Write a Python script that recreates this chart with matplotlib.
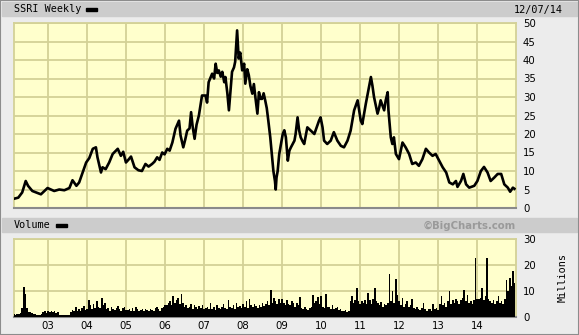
import numpy as np
import matplotlib.pyplot as plt
from matplotlib.patches import Rectangle

# weekly SSRI chart (decimal years)
price_dates = [
    2002.13, 2002.24, 2002.34, 2002.43, 2002.49, 2002.60, 2002.70, 2002.82, 2002.90, 2002.99,
    2003.16, 2003.29, 2003.42, 2003.55, 2003.63, 2003.73, 2003.80, 2003.89, 2003.98,
    2004.06, 2004.15, 2004.23, 2004.27, 2004.36, 2004.40, 2004.48, 2004.57, 2004.66, 2004.79,
    2004.87, 2004.93, 2005.00, 2005.06, 2005.13, 2005.22, 2005.32, 2005.41, 2005.50, 2005.58,
    2005.67, 2005.73, 2005.80, 2005.86, 2005.93, 2005.99, 2006.06, 2006.12, 2006.19, 2006.27,
    2006.36, 2006.40, 2006.47, 2006.52, 2006.57, 2006.63, 2006.67, 2006.71, 2006.76, 2006.81,
    2006.87, 2006.95, 2007.04, 2007.08, 2007.12, 2007.21, 2007.26, 2007.30, 2007.34, 2007.38,
    2007.43, 2007.47, 2007.52, 2007.55, 2007.60, 2007.64, 2007.68, 2007.72, 2007.77, 2007.80,
    2007.85, 2007.89, 2007.93, 2007.98, 2008.03, 2008.06, 2008.11, 2008.15, 2008.19, 2008.24,
    2008.28, 2008.32, 2008.37, 2008.41, 2008.45, 2008.49, 2008.53, 2008.57, 2008.61, 2008.65,
    2008.70, 2008.74, 2008.78, 2008.82, 2008.84, 2008.86, 2008.89, 2008.93, 2009.02, 2009.06,
    2009.10, 2009.15, 2009.19, 2009.23, 2009.32, 2009.35, 2009.40, 2009.44, 2009.48, 2009.53,
    2009.57, 2009.65, 2009.74, 2009.83, 2009.95, 2009.99, 2010.04, 2010.08, 2010.16, 2010.25,
    2010.33, 2010.42, 2010.51, 2010.59, 2010.68, 2010.76, 2010.85, 2010.94, 2011.02, 2011.06,
    2011.15, 2011.23, 2011.28, 2011.32, 2011.36, 2011.45, 2011.49, 2011.53, 2011.62, 2011.66,
    2011.71, 2011.73, 2011.79, 2011.83, 2011.87, 2011.92, 2012.00, 2012.09, 2012.17, 2012.26,
    2012.34, 2012.43, 2012.51, 2012.60, 2012.69, 2012.77, 2012.86, 2012.94, 2013.03, 2013.12,
    2013.21, 2013.29, 2013.38, 2013.46, 2013.50, 2013.59, 2013.65, 2013.72, 2013.80, 2013.93,
    2014.01, 2014.10, 2014.18, 2014.27, 2014.35, 2014.44, 2014.53, 2014.62, 2014.70, 2014.79,
    2014.85, 2014.92, 2014.96,
]
price_close = [
    2.5, 2.8, 4.2, 7.3, 6.0, 4.6, 4.2, 3.7, 4.5, 5.4,
    4.6, 5.0, 4.8, 5.4, 7.5, 6.0, 6.9, 9.6, 12.3,
    13.5, 16.0, 16.4, 13.7, 9.6, 11.0, 10.5, 12.3, 14.6, 16.0,
    14.1, 15.2, 12.3, 13.0, 13.9, 11.0, 10.2, 10.0, 11.9, 11.2,
    11.9, 12.5, 13.7, 13.0, 15.0, 14.5, 16.0, 15.5, 17.7, 21.4,
    23.6, 19.6, 16.4, 18.5, 20.9, 21.5, 25.9, 22.0, 18.7, 22.5,
    25.0, 30.4, 30.4, 28.5, 34.0, 36.3, 35.0, 39.0, 36.5, 37.2,
    35.5, 36.8, 34.0, 35.4, 31.0, 26.4, 31.5, 36.8, 38.0, 39.5,
    48.0, 40.4, 42.0, 37.2, 39.0, 33.6, 37.5, 35.9, 33.0, 30.9,
    33.5, 29.8, 25.5, 31.3, 29.5, 29.5, 31.0, 29.1, 27.0, 23.6,
    19.1, 14.6, 10.0, 7.3, 5.0, 8.2, 10.0, 14.6, 20.0, 21.0,
    19.1, 12.8, 15.5, 16.4, 18.2, 20.0, 24.5, 21.0, 19.1, 18.0,
    17.3, 21.8, 20.9, 20.0, 23.6, 24.5, 21.8, 18.2, 17.3, 18.2,
    20.5, 18.2, 16.8, 16.4, 18.2, 20.9, 26.4, 29.1, 23.6, 22.7,
    28.2, 32.7, 35.4, 33.0, 30.0, 25.5, 27.0, 29.1, 26.4, 29.1,
    31.3, 26.4, 19.1, 17.3, 19.1, 14.6, 13.2, 17.7, 16.4, 14.6,
    11.9, 12.3, 11.4, 13.2, 16.0, 15.0, 14.1, 14.6, 12.8, 11.0,
    9.6, 6.9, 6.4, 7.3, 5.7, 7.3, 9.2, 6.4, 5.5, 6.0,
    7.3, 10.0, 11.1, 9.6, 7.3, 8.2, 9.2, 9.2, 6.4, 5.5,
    4.4, 5.5, 5.2,
]

# volume in millions, two readings per month starting Feb 2002
vol_start = 2002.13
volume = [
    # 2002
    1.0, 0.8, 1.2, 1.0, 1.5, 3.5, 11.5, 9.0, 3.5, 2.0, 1.8, 1.5,
    1.2, 1.0, 0.8, 0.7, 0.8, 1.0, 2.0, 2.4, 1.5, 2.2,
    # 2003
    2.0, 2.5, 1.8, 2.2, 1.5, 2.0, 0.8, 0.6, 0.9, 0.7, 0.8, 0.6,
    0.9, 2.0, 2.8, 2.2, 4.0, 2.5, 3.0, 2.4, 3.5, 4.2, 2.8, 3.2,
    # 2004
    6.4, 4.5, 3.0, 5.0, 3.5, 6.0, 4.0, 3.5, 7.3, 4.8, 5.5, 3.0,
    3.5, 2.5, 3.8, 3.0, 2.8, 3.5, 4.2, 3.0, 2.5, 3.5, 4.0, 2.8,
    # 2005
    2.8, 3.0, 2.5, 3.5, 2.2, 4.0, 3.0, 2.5, 2.8, 3.2, 2.4, 3.0,
    2.6, 2.2, 3.0, 2.8, 2.5, 3.3, 4.0, 3.0, 2.5, 3.5, 3.8, 4.5,
    # 2006
    4.5, 5.5, 6.0, 4.8, 8.0, 5.5, 6.5, 7.3, 5.0, 8.8, 5.5, 4.0,
    4.5, 3.5, 4.0, 5.0, 3.2, 4.5, 3.8, 3.0, 4.2, 3.5, 4.8, 3.2,
    # 2007
    3.5, 4.0, 3.0, 5.4, 3.2, 3.8, 2.8, 4.5, 3.5, 3.0, 4.0, 5.0,
    3.5, 3.0, 6.7, 4.0, 3.5, 4.5, 3.2, 5.5, 3.8, 4.2, 3.5, 5.0,
    # 2008
    4.0, 6.0, 3.5, 6.9, 4.5, 3.8, 5.0, 4.2, 3.5, 4.8, 4.0, 5.5,
    4.2, 5.0, 6.0, 4.5, 10.2, 5.5, 7.3, 6.0, 5.0, 6.9, 5.5, 7.0,
    # 2009
    5.4, 4.8, 6.7, 5.0, 4.5, 6.0, 5.2, 4.0, 5.5, 4.5, 7.6, 3.5,
    3.0, 3.8, 3.2, 2.8, 3.5, 4.0, 8.3, 5.5, 6.0, 7.6, 5.0, 8.0,
    # 2010
    4.0, 3.5, 8.8, 4.0, 3.8, 3.2, 4.5, 3.0, 3.5, 4.0, 2.8, 3.2,
    2.5, 2.2, 2.6, 2.0, 2.4, 6.0, 8.0, 5.5, 6.4, 11.2, 6.0, 5.0,
    # 2011
    6.0, 5.5, 6.7, 5.0, 9.2, 6.5, 5.0, 7.0, 11.2, 6.0, 5.4, 4.5,
    5.8, 4.0, 5.0, 4.5, 5.2, 16.5, 6.0, 10.0, 5.5, 14.6, 8.5, 6.0,
    # 2012
    4.5, 7.3, 4.0, 5.0, 6.0, 3.8, 4.5, 7.0, 3.5, 3.0, 4.0, 3.2,
    2.8, 3.5, 5.4, 3.0, 2.5, 3.2, 3.0, 2.4, 5.0, 3.0, 3.5, 2.8,
    # 2013
    5.0, 8.0, 4.5, 5.5, 4.0, 6.0, 9.9, 5.0, 6.7, 5.5, 7.0, 6.0,
    5.0, 6.5, 7.5, 10.5, 6.0, 8.5, 5.5, 6.0, 5.0, 6.5, 22.7, 7.0,
    # 2014
    7.0, 7.5, 11.2, 6.5, 8.0, 22.7, 7.0, 6.0, 5.5, 6.5, 5.0, 6.0,
    8.0, 5.5, 6.0, 5.0, 7.0, 14.4, 10.0, 15.0, 12.0, 17.6, 13.0,
]
vol_dates = vol_start + np.arange(len(volume)) / 24

year_ticks = list(range(2003, 2015))
year_labels = ['03', '04', '05', '06', '07', '08', '09', '10', '11', '12', '13', '14']
price_ticks = [0, 5, 10, 15, 20, 25, 30, 35, 40, 45, 50]
vol_ticks = [0, 10, 20, 30]

W, H = 579, 335
bg = '#ececec'
bar_grey = '#cccccc'
plot_bg = '#ffffcc'
grid_col = '#d3d196'
mono = 'DejaVu Sans Mono'


def fx(px):
    return px / W


def fy(py):
    return 1 - py / H


fig = plt.figure(figsize=(W / 100, H / 100), dpi=100, facecolor=bg)

# header bars
for top, bot in [(2, 16), (218, 232)]:
    fig.patches.append(Rectangle((fx(2), fy(bot)), fx(575), (bot - top) / H,
                                 transform=fig.transFigure, color=bar_grey, zorder=0))
fig.patches.append(Rectangle((0, 0), 1, 1, transform=fig.transFigure, fill=False,
                             edgecolor='#8c8c8c', linewidth=1.5, zorder=0))

fig.text(fx(14), fy(9.5), 'SSRI Weekly', family=mono, size=7.3, va='center')
fig.patches.append(Rectangle((fx(86), fy(11)), fx(11), 3 / H,
                             transform=fig.transFigure, color='black'))
fig.text(fx(563), fy(9.5), '12/07/14', family=mono, size=7.3, va='center', ha='right')
fig.text(fx(14), fy(225.5), 'Volume', family=mono, size=7.3, va='center')
fig.patches.append(Rectangle((fx(56), fy(227)), fx(11), 3 / H,
                             transform=fig.transFigure, color='black'))
fig.text(fx(516), fy(225.5), '©BigCharts.com', family='DejaVu Sans', size=7.3,
         weight='bold', color='#9a9a9a', va='center', ha='right')
fig.text(fx(563), fy(278), 'Millions', family=mono, size=7.3, rotation=90,
         va='center', ha='center')

ax = fig.add_axes([fx(14), fy(208), fx(502), 185 / H])
axv = fig.add_axes([fx(14), fy(317), fx(502), 78 / H])

ax.plot(price_dates, price_close, color='black', linewidth=1.9, zorder=3)
axv.bar(vol_dates, volume, width=1 / 24, color='black', linewidth=0, zorder=3)

for a, ticks, top in [(ax, price_ticks, 50), (axv, vol_ticks, 30)]:
    a.set_facecolor(plot_bg)
    a.set_xlim(2002.13, 2015.0)
    a.set_ylim(0, top)
    a.set_xticks(year_ticks)
    a.set_yticks(ticks)
    a.yaxis.tick_right()
    a.grid(color=grid_col, linewidth=1.3, zorder=0)
    a.set_axisbelow(True)
    a.tick_params(length=0, labelsize=7.3, pad=5)
    for s in ['top', 'left', 'right']:
        a.spines[s].set_color(grid_col)
        a.spines[s].set_linewidth(1.3)
    a.spines['bottom'].set_color('#8a8a8a')
    a.spines['bottom'].set_linewidth(1.5)

ax.set_xticklabels([])
axv.set_xticklabels(year_labels)
axv.tick_params(axis='x', pad=3)

plt.savefig('out.png', dpi=100, facecolor=bg)
